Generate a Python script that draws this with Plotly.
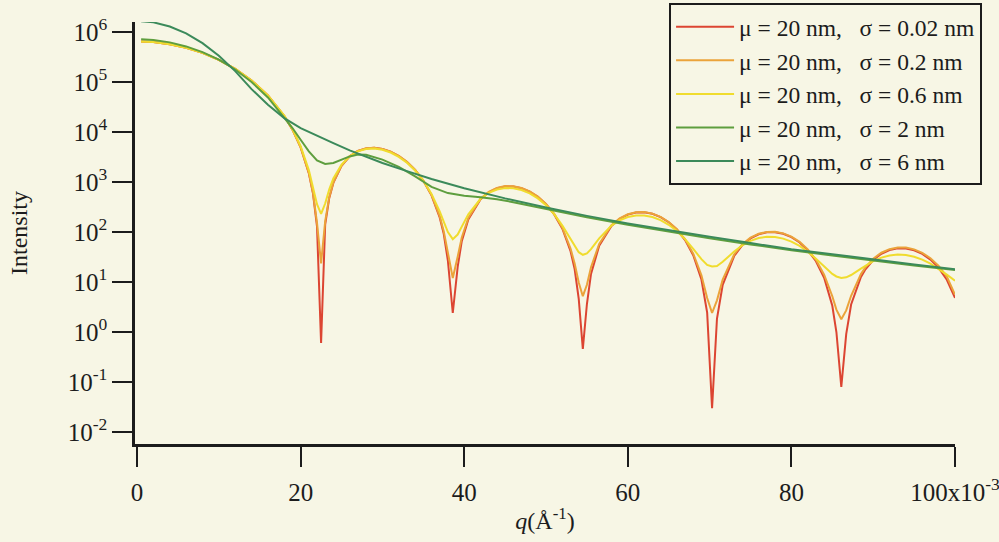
import plotly.graph_objects as go

# Scattering vector q, in units of 1e-3 1/Å (dense around the form-factor minima)
q_osc = [0.5, 2, 4, 6, 8, 10, 12, 14, 16, 18,
         19, 20, 21, 21.5, 22, 22.5, 23, 23.5, 24, 25,
         26, 27, 28, 29, 30, 31, 32, 33, 34, 35,
         36, 37, 37.5, 38, 38.6, 39.2, 39.7, 40.5, 42, 43,
         44, 45, 46, 47, 48, 49, 50, 51, 52, 53,
         53.5, 54, 54.5, 55, 55.5, 56.5, 58, 59, 60, 61,
         62, 63, 64, 65, 66, 67, 68, 69, 69.7, 70.3,
         70.9, 71.6, 73, 74, 75, 76, 77, 78, 79, 80,
         81, 82, 83, 84, 85, 85.5, 86.1, 86.7, 87.3, 88.5,
         89, 90, 91, 92, 93, 94, 95, 96, 97, 98,
         99, 100]

# sigma = 0.02 nm
i_s002 = [6.49e5, 6.29e5, 5.71e5, 4.84e5, 3.82e5, 2.77e5, 1.83e5, 1.073e5, 5.36e4, 2.086e4,
          1.113e4, 4930, 1503, 603, 129, 0.6, 141, 481, 959, 2116,
          3261, 4162, 4694, 4820, 4575, 4038, 3314, 2514, 1737, 1061,
          540, 196, 90.8, 26.9, 2.4, 20.0, 65.8, 179, 453, 624,
          751, 816, 815, 753, 643, 506, 360, 225, 116, 41.3,
          18.2, 4.6, 0.46, 3.63, 14.5, 52.9, 132, 183, 223, 245,
          247, 231, 199, 157, 112, 69.1, 34.4, 11.2, 2.44, 0.03,
          1.86, 8.8, 33.1, 54.5, 74.5, 89.9, 98.4, 99.0, 92.0, 78.8,
          61.7, 43.2, 26.0, 12.2, 3.35, 1.0, 0.08, 0.91, 3.55, 12.6,
          17.4, 27.5, 36.7, 43.6, 47.2, 47.0, 43.2, 36.5, 28.1, 19.2,
          11.1, 4.8]

# sigma = 0.2 nm
i_s02 = [6.49e5, 6.29e5, 5.71e5, 4.84e5, 3.82e5, 2.77e5, 1.83e5, 1.073e5, 5.36e4, 2.088e4,
         1.115e4, 4950, 1525, 626, 152, 23.6, 164, 504, 982, 2139,
         3284, 4185, 4710, 4830, 4585, 4050, 3326, 2526, 1749, 1073,
         552, 208, 103, 39, 12, 32, 78, 191, 465, 636,
         763, 828, 821, 759, 648, 511, 365, 230, 121, 46.5,
         23.4, 9.8, 5.2, 8.8, 19.7, 58, 137, 188, 226, 248,
         250, 233, 201, 159, 114, 71.5, 36.8, 13.6, 4.8, 2.4,
         4.3, 11.2, 35.5, 57, 77, 92, 100, 101, 93.8, 80.6,
         63.5, 45, 27.8, 14, 5.2, 2.8, 1.8, 2.7, 5.3, 14.4,
         19.2, 29.3, 38.5, 45.4, 49, 48.8, 45, 38.3, 29.9, 21,
         12.9, 5.6]

# sigma = 0.6 nm
i_s06 = [6.49e5, 6.29e5, 5.71e5, 4.84e5, 3.82e5, 2.77e5, 1.83e5, 1.075e5, 5.4e4, 2.12e4,
         1.15e4, 5200, 1730, 833, 359, 231, 371, 711, 1179, 2221,
         3278, 4105, 4576, 4670, 4412, 3884, 3188, 2426, 1694, 1062,
         577, 259, 160, 100, 72, 89, 128, 225, 461, 605,
         709, 758, 751, 691, 591, 470, 343, 227, 134, 71,
         51.3, 39.5, 35, 37.4, 45.4, 74.5, 134, 171.8, 200, 214.7,
         213.5, 199, 172.7, 139.4, 104.7, 72, 46, 28.6, 21.9, 20.5,
         20.9, 25.3, 40.6, 54.2, 66.6, 75.7, 80.1, 79.3, 73.7, 64.2,
         52.6, 40.3, 29.1, 20.2, 14.5, 12.9, 12, 12.4, 13.8, 18.5,
         20.9, 26.2, 30.7, 33.9, 35.3, 34.6, 32.0, 28, 23.2, 18.3,
         14.0, 10.6]

# sigma = 2 nm
q_s2 = [0.5, 2, 4, 6, 8, 10, 12, 14, 16, 18,
        19, 20, 21, 22, 23, 24, 25, 26, 27, 28,
        30, 32, 34, 36, 38, 40, 42, 44, 46, 50,
        55, 60, 65, 70, 75, 80, 85, 90, 95, 100]
i_s2 = [7.2e5, 6.95e5, 6.2e5, 5.15e5, 3.95e5, 2.8e5, 1.78e5, 1.0e5, 4.9e4, 1.95e4,
        1.2e4, 7.0e3, 4.1e3, 2.7e3, 2.3e3, 2.4e3, 2.8e3, 3.25e3, 3.55e3, 3.5e3,
        2.8e3, 2.0e3, 1.3e3, 800, 600, 530, 495, 450, 395, 290,
        198, 139, 101, 75, 56.5, 43, 34, 26.5, 21.3, 17.3]

# sigma = 6 nm
q_s6 = [0.5, 2, 4, 6, 8, 10, 12, 14, 16, 18,
        20, 22, 24, 26, 28, 30, 33, 36, 40, 45,
        50, 55, 60, 65, 70, 75, 80, 85, 90, 95, 100]
i_s6 = [1.65e6, 1.56e6, 1.29e6, 9.4e5, 6.0e5, 3.35e5, 1.65e5, 7.2e4, 3.5e4, 1.9e4,
        1.2e4, 8.4e3, 6.0e3, 4.3e3, 3.2e3, 2.4e3, 1.65e3, 1.15e3, 750, 470,
        310, 210, 148, 108, 80, 60, 45, 36, 28, 22.5, 18]

labels = [
    "\u03bc = 20 nm,\u00a0\u00a0 \u03c3 = 0.02 nm",
    "\u03bc = 20 nm,\u00a0\u00a0 \u03c3 = 0.2 nm",
    "\u03bc = 20 nm,\u00a0\u00a0 \u03c3 = 0.6 nm",
    "\u03bc = 20 nm,\u00a0\u00a0 \u03c3 = 2 nm",
    "\u03bc = 20 nm,\u00a0\u00a0 \u03c3 = 6 nm",
]
colors = ["#dc4532", "#eba33a", "#f0dc2e", "#5e9e3e", "#3b8a5a"]

y_exponents = [-2, -1, 0, 1, 2, 3, 4, 5, 6]
x_ticks = [0, 20, 40, 60, 80, 100]
x_ticktext = ["0", "20", "40", "60", "80", "100x10<sup>-3</sup>"]

FONT = "Liberation Serif"
BG = "#f7f6e5"
INK = "#1c1c1c"

fig = go.Figure()
for xs, ys, name, col in zip(
    [q_osc, q_osc, q_osc, q_s2, q_s6],
    [i_s002, i_s02, i_s06, i_s2, i_s6],
    labels, colors,
):
    fig.add_trace(go.Scatter(x=xs, y=ys, mode="lines", name=name,
                             line=dict(color=col, width=2)))

fig.update_layout(
    width=999, height=542,
    margin=dict(l=135, r=44, t=22, b=98, autoexpand=False),
    paper_bgcolor=BG, plot_bgcolor=BG,
    font=dict(family=FONT, size=24, color=INK),
    showlegend=True,
    legend=dict(
        x=1.033, xanchor="right", y=1.045, yanchor="top",
        bgcolor=BG, bordercolor=INK, borderwidth=2,
        font=dict(family=FONT, size=23.5, color=INK),
        itemwidth=58, tracegroupgap=0,
    ),
)

fig.update_xaxes(
    range=[-0.25, 100], automargin=False,
    tickmode="array", tickvals=x_ticks, ticktext=x_ticktext,
    ticks="outside", ticklen=20, tickwidth=2, tickcolor=INK,
    ticklabelstandoff=4, ticklabeloverflow="allow",
    showline=True, linewidth=2.5, linecolor=INK,
    showgrid=False, zeroline=False,
    tickfont=dict(family=FONT, size=25, color=INK),
    title=dict(text="<i>q</i>(\u00c5<sup>-1</sup>)",
               font=dict(family=FONT, size=24, color=INK), standoff=8),
)

fig.update_yaxes(
    type="log", range=[-2.24, 6.2], automargin=False,
    tickmode="array",
    tickvals=[10.0 ** e for e in y_exponents],
    ticktext=[f"10<sup>{e}</sup>" for e in y_exponents],
    ticks="outside", ticklen=20, tickwidth=2, tickcolor=INK,
    showline=True, linewidth=2.5, linecolor=INK,
    showgrid=False, zeroline=False,
    tickfont=dict(family=FONT, size=25, color=INK),
    title=dict(text="Intensity",
               font=dict(family=FONT, size=24, color=INK), standoff=34),
)

fig.write_html("out.html")
